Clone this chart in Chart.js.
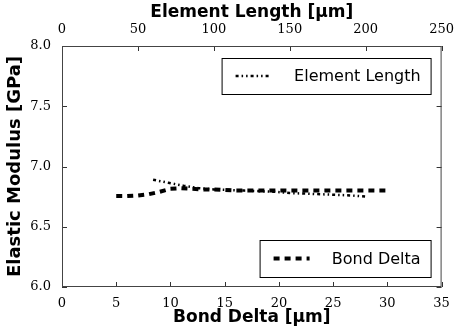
<!DOCTYPE html>
<html lang="en">
<head>
    <meta charset="UTF-8">
    <title>Elastic Modulus</title>
    <style>
        body { margin: 0; padding: 0; background: #fff; }
        .chart-container { position: relative; width: 455px; height: 332px; }
    </style>
    <script src="https://cdn.jsdelivr.net/npm/chart.js"></script>
</head>
<body>
    <div class="chart-container">
        <canvas id="modulusChart" width="455" height="332"></canvas>
    </div>
    <script>
        // Bond delta sweep (bottom axis, um)
        var bondDelta = [5, 6, 7, 8, 9, 10, 11, 12, 13, 14, 15, 16, 17, 18, 19, 20, 21, 22, 23, 24, 25, 26, 27, 28, 29, 30];
        var bondModulus = [6.755, 6.755, 6.76, 6.77, 6.79, 6.815, 6.82, 6.815, 6.81, 6.81, 6.805, 6.80, 6.80, 6.80, 6.80, 6.80, 6.80, 6.80, 6.80, 6.80, 6.80, 6.80, 6.80, 6.80, 6.80, 6.80];

        // Element length sweep (top axis, um)
        var elementLength = [60, 70, 80, 90, 100, 110, 120, 130, 140, 150, 160, 170, 180, 190, 200];
        var elementModulus = [6.89, 6.865, 6.84, 6.82, 6.81, 6.805, 6.80, 6.795, 6.79, 6.78, 6.775, 6.77, 6.765, 6.76, 6.75];

        var bottomTicks = [0, 5, 10, 15, 20, 25, 30, 35];
        var topTicks = [0, 50, 100, 150, 200, 250];
        var yTicks = [6.0, 6.5, 7.0, 7.5, 8.0];

        var tickFont = { family: "'DejaVu Serif', serif", size: 13 };
        var titleFont = { family: "'DejaVu Sans', sans-serif", size: 17, weight: 'bold' };

        function toPoints(xs, ys) {
            return xs.map(function (x, i) { return { x: x, y: ys[i] }; });
        }

        // inward tick marks on all four sides, matplotlib style
        var innerTicks = {
            id: 'innerTicks',
            afterDraw: function (chart) {
                var c = chart.ctx, a = chart.chartArea, s = chart.scales;
                c.save();
                c.strokeStyle = '#333';
                c.lineWidth = 1;
                c.beginPath();
                bottomTicks.forEach(function (v) {
                    var px = Math.round(s.x.getPixelForValue(v)) + 0.5;
                    c.moveTo(px, a.bottom); c.lineTo(px, a.bottom - 5);
                });
                topTicks.forEach(function (v) {
                    var px = Math.round(s.x2.getPixelForValue(v)) + 0.5;
                    c.moveTo(px, a.top); c.lineTo(px, a.top + 5);
                });
                yTicks.forEach(function (v) {
                    var py = Math.round(s.y.getPixelForValue(v)) + 0.5;
                    c.moveTo(a.left, py); c.lineTo(a.left + 5, py);
                    c.moveTo(a.right, py); c.lineTo(a.right - 5, py);
                });
                c.stroke();
                c.strokeStyle = '#444';
                c.strokeRect(a.left + 0.5, a.top + 0.5, a.right - a.left - 1, a.bottom - a.top - 1);
                c.restore();
            }
        };

        // two separate legend boxes
        var boxLegends = {
            id: 'boxLegends',
            afterDraw: function (chart) {
                var c = chart.ctx, a = chart.chartArea;
                function box(x, y, w, h, label, ds) {
                    c.save();
                    c.fillStyle = '#fff';
                    c.fillRect(x, y, w, h);
                    c.strokeStyle = '#000';
                    c.lineWidth = 1;
                    c.strokeRect(x + 0.5, y + 0.5, w, h);
                    c.beginPath();
                    c.setLineDash(ds.borderDash);
                    c.lineWidth = ds.borderWidth;
                    c.moveTo(x + 14, y + h / 2);
                    c.lineTo(x + 50, y + h / 2);
                    c.stroke();
                    c.setLineDash([]);
                    c.fillStyle = '#000';
                    c.font = "16px 'DejaVu Sans', sans-serif";
                    c.textBaseline = 'middle';
                    c.textAlign = 'right';
                    c.fillText(label, x + w - 10, y + h / 2 + 1);
                    c.restore();
                }
                var d = chart.data.datasets;
                box(a.right - 220, a.top + 12, 209, 36, d[0].label, d[0]);
                box(a.right - 182, a.bottom - 47, 171, 37, d[1].label, d[1]);
            }
        };

        var ctx = document.getElementById('modulusChart').getContext('2d');
        var modulusChart = new Chart(ctx, {
            type: 'scatter',
            data: {
                datasets: [
                    {
                        label: 'Element Length',
                        data: toPoints(elementLength, elementModulus),
                        xAxisID: 'x2',
                        showLine: true,
                        borderColor: '#000',
                        borderWidth: 2.5,
                        borderDash: [3, 3, 1.5, 3, 1.5, 3],
                        pointRadius: 0,
                        fill: false
                    },
                    {
                        label: 'Bond Delta',
                        data: toPoints(bondDelta, bondModulus),
                        xAxisID: 'x',
                        showLine: true,
                        borderColor: '#000',
                        borderWidth: 4,
                        borderDash: [6, 5],
                        pointRadius: 0,
                        fill: false
                    }
                ]
            },
            options: {
                responsive: false,
                animation: false,
                layout: { padding: { left: 0, right: 10, top: 0, bottom: 0 } },
                plugins: { legend: { display: false }, tooltip: { enabled: false } },
                scales: {
                    x: {
                        type: 'linear', position: 'bottom', min: 0, max: 35,
                        afterBuildTicks: function (s) { s.ticks = bottomTicks.map(function (v) { return { value: v }; }); },
                        afterFit: function (s) { s.height = 45; },
                        grid: { display: false },
                        border: { display: false },
                        ticks: { font: tickFont, color: '#000', padding: 1, maxRotation: 0 },
                        title: { display: true, text: 'Bond Delta [μm]', font: titleFont, color: '#000', padding: { top: 2 } }
                    },
                    x2: {
                        type: 'linear', position: 'top', min: 0, max: 250,
                        afterBuildTicks: function (s) { s.ticks = topTicks.map(function (v) { return { value: v }; }); },
                        afterFit: function (s) { s.height = 46; },
                        grid: { display: false },
                        border: { display: false },
                        ticks: { font: tickFont, color: '#000', padding: 1, maxRotation: 0 },
                        title: { display: true, text: 'Element Length [μm]', font: titleFont, color: '#000', padding: { top: 2, bottom: 0 } }
                    },
                    y: {
                        type: 'linear', min: 6, max: 8,
                        afterBuildTicks: function (s) { s.ticks = yTicks.map(function (v) { return { value: v }; }); },
                        afterFit: function (s) { s.width = 62; },
                        grid: { display: false },
                        border: { display: false },
                        ticks: { font: tickFont, color: '#000', padding: 3, callback: function (v) { return v.toFixed(1); } },
                        title: {
                            display: true, text: 'Elastic Modulus [GPa]', color: '#000', padding: { top: 5, bottom: 0 },
                            font: { family: "'DejaVu Sans', sans-serif", size: 18, weight: 'bold' }
                        }
                    }
                }
            },
            plugins: [innerTicks, boxLegends]
        });
    </script>
</body>
</html>
